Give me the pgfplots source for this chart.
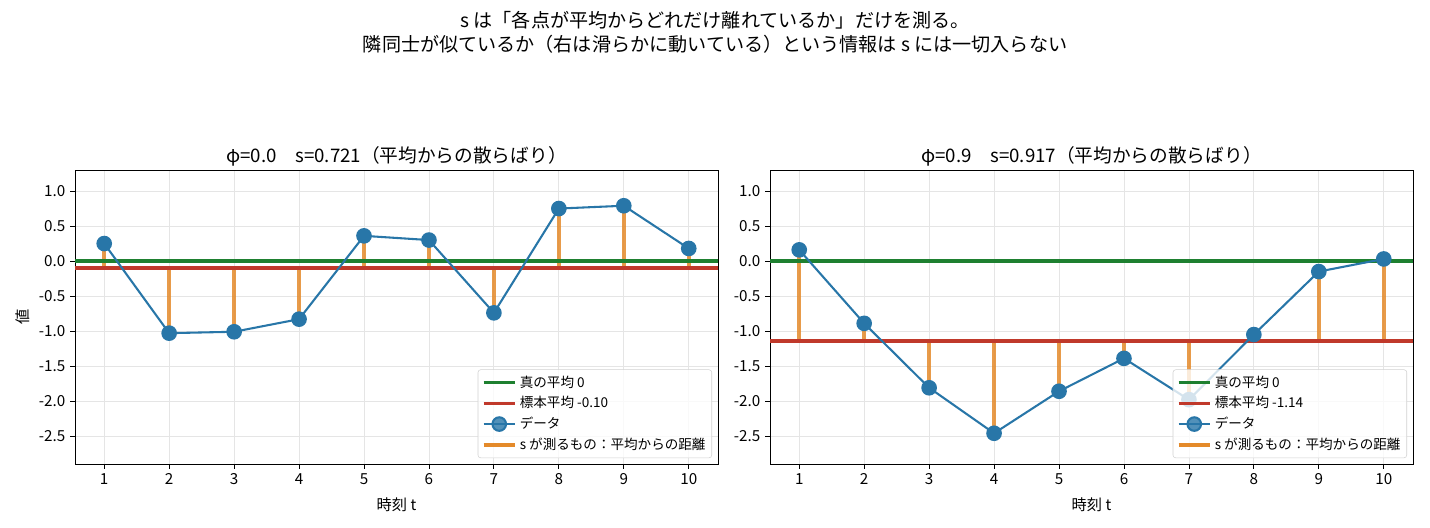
\documentclass[border=0pt]{standalone}
\usepackage{fontspec}
\setmainfont{Noto Sans CJK JP}
\usepackage{pgfplots}
\pgfplotsset{compat=1.18}

\definecolor{truegreen}{RGB}{30,128,48}
\definecolor{meanred}{RGB}{192,57,43}
\definecolor{datablue}{RGB}{40,118,168}
\definecolor{stemorange}{RGB}{228,138,42}

\pgfplotsset{
  panel/.style={
    scale only axis, width=464.7pt, height=212.5pt,
    anchor=north west,
    xmin=0.55, xmax=10.45, ymin=-2.9, ymax=1.3,
    xtick={1,...,10}, ytick={-2.5,-2,...,1},
    grid=major, grid style={gray!20, line width=0.6pt},
    axis line style={line width=0.6pt},
    tick align=outside, tick pos=left, major tick length=3.5pt,
    tick style={black, line width=0.6pt},
    ticklabel style={font=\fontsize{11}{13}\selectfont},
    yticklabel style={/pgf/number format/.cd, fixed, fixed zerofill, precision=1},
    /pgf/number format/assume math mode=true,
    xlabel={時刻 t},
    xlabel style={yshift=-2.5pt},
    label style={font=\fontsize{11}{13}\selectfont},
    title style={font=\fontsize{13.5}{16}\selectfont, yshift=-6.5pt},
    legend cell align=left,
    legend image code/.code={
      \draw[mark repeat=2, mark phase=2, #1]
        plot coordinates {(0cm,0cm) (0.4cm,0cm) (0.8cm,0cm)};},
    legend style={at={(1,0)}, anchor=south east, xshift=-4.3pt, yshift=4.3pt,
      font=\fontsize{9.8}{12}\selectfont, draw=gray!35, fill=white,
      fill opacity=0.8, text opacity=1, draw opacity=1,
      rounded corners=2pt, row sep=1.2pt, inner sep=2.5pt},
  }
}

\begin{document}
\begin{tikzpicture}
\useasboundingbox (0,0) rectangle (1033.5pt,-381.6pt);

\node[font=\fontsize{13.8}{17.3}\selectfont, align=center] at (516.8pt,-23.1pt)
  {s は「各点が平均からどれだけ離れているか」だけを測る。\\
   隣同士が似ているか（右は滑らかに動いている）という情報は s には一切入らない};

% left: phi = 0.0
\begin{axis}[panel, at={(54.2pt,-122.9pt)}, ylabel={値},
  title={φ=0.0\quad s=0.721（平均からの散らばり）}]
\addplot[stemorange, opacity=0.85, line width=3pt, forget plot, unbounded coords=jump]
  coordinates {
  (1,-0.098) (1,0.25) (1,nan)
  (2,-0.098) (2,-1.03) (2,nan)
  (3,-0.098) (3,-1.01) (3,nan)
  (4,-0.098) (4,-0.83) (4,nan)
  (5,-0.098) (5,0.36) (5,nan)
  (6,-0.098) (6,0.30) (6,nan)
  (7,-0.098) (7,-0.74) (7,nan)
  (8,-0.098) (8,0.75) (8,nan)
  (9,-0.098) (9,0.79) (9,nan)
  (10,-0.098) (10,0.18)
  };
\addplot[truegreen, line width=2.4pt] coordinates {(0.55,0) (10.45,0)};
\addlegendentry{真の平均 0}
\addplot[meanred, line width=2.4pt] coordinates {(0.55,-0.098) (10.45,-0.098)};
\addlegendentry{標本平均 -0.10}
\addplot[datablue, line width=1.5pt, mark=*, mark size=4.9pt, mark options={solid}]
  coordinates {
  (1,0.25) (2,-1.03) (3,-1.01) (4,-0.83) (5,0.36)
  (6,0.30) (7,-0.74) (8,0.75) (9,0.79) (10,0.18)
  };
\addlegendentry{データ}
\addlegendimage{stemorange, line width=3pt}
\addlegendentry{s が測るもの：平均からの距離}
\end{axis}

% right: phi = 0.9
\begin{axis}[panel, at={(556.5pt,-122.9pt)},
  title={φ=0.9\quad s=0.917（平均からの散らばり）}]
\addplot[stemorange, opacity=0.85, line width=3pt, forget plot, unbounded coords=jump]
  coordinates {
  (1,-1.14) (1,0.16) (1,nan)
  (2,-1.14) (2,-0.89) (2,nan)
  (3,-1.14) (3,-1.81) (3,nan)
  (4,-1.14) (4,-2.46) (4,nan)
  (5,-1.14) (5,-1.86) (5,nan)
  (6,-1.14) (6,-1.39) (6,nan)
  (7,-1.14) (7,-1.98) (7,nan)
  (8,-1.14) (8,-1.05) (8,nan)
  (9,-1.14) (9,-0.15) (9,nan)
  (10,-1.14) (10,0.03)
  };
\addplot[truegreen, line width=2.4pt] coordinates {(0.55,0) (10.45,0)};
\addlegendentry{真の平均 0}
\addplot[meanred, line width=2.4pt] coordinates {(0.55,-1.14) (10.45,-1.14)};
\addlegendentry{標本平均 -1.14}
\addplot[datablue, line width=1.5pt, mark=*, mark size=4.9pt, mark options={solid}]
  coordinates {
  (1,0.16) (2,-0.89) (3,-1.81) (4,-2.46) (5,-1.86)
  (6,-1.39) (7,-1.98) (8,-1.05) (9,-0.15) (10,0.03)
  };
\addlegendentry{データ}
\addlegendimage{stemorange, line width=3pt}
\addlegendentry{s が測るもの：平均からの距離}
\end{axis}
\end{tikzpicture}
\end{document}
